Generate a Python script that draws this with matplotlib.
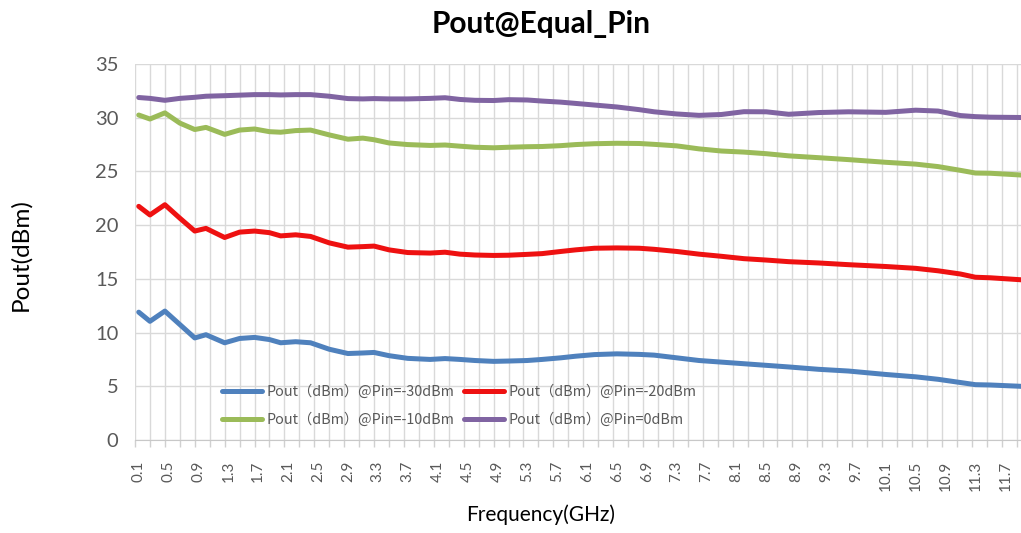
import matplotlib
matplotlib.use("Agg")
import matplotlib.pyplot as plt
import numpy as np

# frequency points (GHz)
freq = [0.1, 0.25, 0.45, 0.65, 0.85, 1.0, 1.25, 1.45, 1.65, 1.85, 2.0, 2.2,
        2.4, 2.65, 2.9, 3.1, 3.25, 3.45, 3.7, 4.0, 4.2, 4.4, 4.6, 4.85, 5.05,
        5.3, 5.5, 5.75, 5.95, 6.2, 6.5, 6.8, 7.0, 7.3, 7.6, 7.9, 8.2, 8.5,
        8.8, 9.2, 9.6, 10.1, 10.5, 10.8, 11.1, 11.3, 11.5, 11.9, 12.0]

pout_m30 = [11.9, 11.05, 12.0, 10.75, 9.5, 9.8, 9.05, 9.45, 9.55, 9.35, 9.05,
            9.15, 9.05, 8.45, 8.05, 8.1, 8.15, 7.85, 7.6, 7.5, 7.58, 7.5, 7.4,
            7.32, 7.35, 7.4, 7.5, 7.65, 7.8, 7.95, 8.02, 7.97, 7.9, 7.65, 7.4,
            7.25, 7.1, 6.95, 6.8, 6.58, 6.42, 6.1, 5.88, 5.65, 5.35, 5.15,
            5.12, 5.0, 4.95]

pout_m20 = [21.75, 20.95, 21.9, 20.65, 19.45, 19.7, 18.85, 19.35, 19.45, 19.3,
            19.0, 19.1, 18.95, 18.35, 17.95, 18.0, 18.05, 17.7, 17.45, 17.4,
            17.48, 17.3, 17.22, 17.18, 17.2, 17.28, 17.35, 17.55, 17.7, 17.85,
            17.88, 17.85, 17.75, 17.55, 17.3, 17.1, 16.88, 16.75, 16.6, 16.48,
            16.32, 16.15, 15.98, 15.75, 15.45, 15.15, 15.1, 14.92, 14.85]

pout_m10 = [30.25, 29.88, 30.45, 29.5, 28.9, 29.1, 28.45, 28.85, 28.95, 28.7,
            28.65, 28.8, 28.85, 28.4, 28.0, 28.1, 27.95, 27.65, 27.5, 27.42,
            27.46, 27.35, 27.25, 27.2, 27.25, 27.3, 27.32, 27.4, 27.5, 27.58,
            27.62, 27.6, 27.52, 27.38, 27.1, 26.9, 26.8, 26.65, 26.45, 26.28,
            26.1, 25.85, 25.68, 25.45, 25.1, 24.85, 24.83, 24.67, 24.6]

pout_0 = [31.88, 31.8, 31.62, 31.8, 31.9, 32.0, 32.05, 32.1, 32.15, 32.15,
          32.12, 32.15, 32.15, 32.0, 31.78, 31.75, 31.78, 31.75, 31.75, 31.8,
          31.86, 31.7, 31.62, 31.6, 31.68, 31.65, 31.55, 31.45, 31.33, 31.18,
          31.0, 30.75, 30.55, 30.35, 30.22, 30.3, 30.56, 30.55, 30.32, 30.48,
          30.55, 30.5, 30.7, 30.62, 30.2, 30.1, 30.05, 30.02, 30.0]

series_labels = ["Pout（dBm）@Pin=-30dBm", "Pout（dBm）@Pin=-20dBm",
                 "Pout（dBm）@Pin=-10dBm", "Pout（dBm）@Pin=0dBm"]
series_colors = ["#4F81BD", "#EE1111", "#9BBB59", "#8064A2"]

x_tick_labels = [f"{0.1 + 0.4 * i:.1f}" for i in range(30)]

GREY = "#595959"

fig = plt.figure(figsize=(10.21, 5.33), dpi=100)
ax = fig.add_axes([135 / 1021, 93 / 533, 1 - 135 / 1021, 376 / 533])

lines = []
for vals, lab, col in zip([pout_m30, pout_m20, pout_m10, pout_0],
                          series_labels, series_colors):
    ln, = ax.plot(freq, vals, color=col, linewidth=3.6, label=lab,
                  solid_capstyle="round", solid_joinstyle="round")
    lines.append(ln)

ax.set_xlim(0.05, 11.91)
ax.set_ylim(0, 35)

# category-style axis: labels every 0.4, gridlines every 0.2
ax.set_xticks([float(t) for t in x_tick_labels])
ax.set_xticklabels(x_tick_labels, rotation=90, fontsize=11, color=GREY,
                   family="Lato")
ax.set_xticks(np.arange(0.05, 11.95, 0.2), minor=True)
ax.tick_params(axis="x", which="major", length=0, pad=15)
ax.tick_params(axis="x", which="minor", length=5, color="#D0D0D0", width=1)

ax.set_yticks(range(0, 36, 5))
ax.tick_params(axis="y", length=0, pad=12, labelsize=14.5, labelcolor=GREY)
for t in ax.get_yticklabels():
    t.set_family("Lato")

ax.grid(True, axis="y", which="major", color="#D9D9D9", linewidth=1)
ax.grid(True, axis="x", which="minor", color="#D9D9D9", linewidth=1)
ax.set_axisbelow(True)

for s in ["top", "right", "left"]:
    ax.spines[s].set_visible(False)
ax.spines["bottom"].set_color("#C8C8C8")

fig.text(541 / 1021, 1 - 24 / 533, "Pout@Equal_Pin", ha="center", va="center",
         fontsize=21.5, fontweight="bold", family="Lato")
fig.text(21 / 1021, 1 - 255 / 533, "Pout(dBm)", ha="center", va="center",
         rotation=90, fontsize=17.5, family="Lato")
fig.text(541 / 1021, 1 - 515 / 533, "Frequency(GHz)", ha="center",
         va="center", fontsize=15, family="Lato")

order = [0, 2, 1, 3]
leg = ax.legend([lines[i] for i in order], [series_labels[i] for i in order],
                ncol=2, frameon=False, loc="upper left",
                bbox_to_anchor=(0.092, 0.162), handlelength=2.8,
                handletextpad=0.28, columnspacing=0.7, labelspacing=0.95,
                borderaxespad=0, prop={"family": "Noto Sans CJK SC", "size": 10.3})
for t in leg.get_texts():
    t.set_color(GREY)

fig.savefig("out.png", dpi=100)
